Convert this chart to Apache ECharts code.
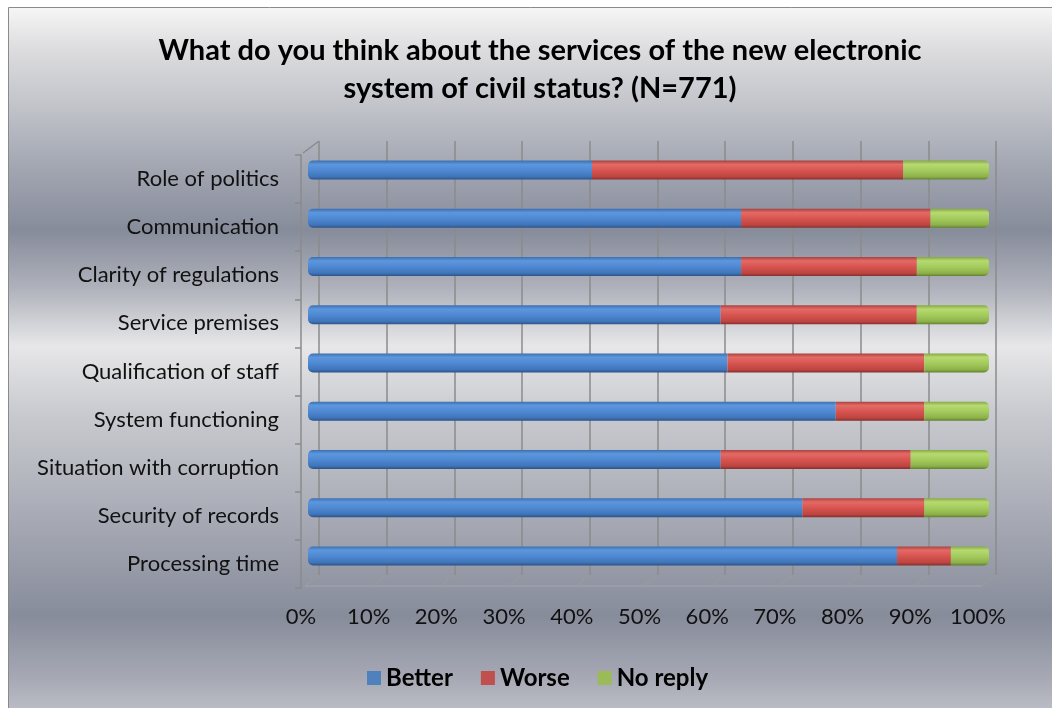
<!DOCTYPE html>
<html><head><meta charset="utf-8">
<script src="https://cdn.jsdelivr.net/npm/echarts@6/dist/echarts.min.js"></script>
<style>html,body{margin:0;padding:0;background:#fff}#c{width:1052px;height:708px}</style>
</head><body><div id="c"></div>
<script>
const categories = ['Role of politics','Communication','Clarity of regulations','Service premises','Qualification of staff','System functioning','Situation with corruption','Security of records','Processing time'];
const better  = [41.7, 63.6, 63.6, 60.6, 61.6, 77.5, 60.6, 72.6, 86.5];
const worse   = [45.7, 27.8, 25.8, 28.8, 28.9, 13.0, 27.9, 17.9, 7.9];
const noReply = [12.6, 8.6, 10.6, 10.6, 9.5, 9.5, 11.5, 9.5, 5.6];
const xTicks = [0,10,20,30,40,50,60,70,80,90,100];
const seriesNames = ['Better','Worse','No reply'];
const titleText = 'What do you think about the services of the new electronic\nsystem of civil status? (N=771)';

const FONT = 'Lato';
function cyl(c0,c1,c2,c3,c4){
  return {type:'linear',x:0,y:0,x2:0,y2:1,colorStops:[
    {offset:0,color:c0},{offset:0.2,color:c1},{offset:0.55,color:c2},{offset:0.85,color:c3},{offset:1,color:c4}]};
}
const fills = [
  cyl('#3d6fae','#5c97de','#4d87d0','#3f74b9','#2c5287'),
  cyl('#a9423f','#e46a66','#d5524e','#bd4541','#842f2c'),
  cyl('#86a845','#b6da70','#a2c95c','#8db14a','#62802f')
];
const legendColors = ['#4f81bd','#c0504d','#9bbb59'];
const dataSets = [better, worse, noReply];

const chart = echarts.init(document.getElementById('c'), null, {renderer:'canvas'});
const option = {
  backgroundColor:'#ffffff',
  animation:false,
  color:legendColors,
  graphic:[{
    type:'rect', z:-10, silent:true,
    shape:{x:8.5,y:7.5,width:1060,height:720},
    style:{stroke:'#8a8a8a',lineWidth:1,
      fill:{type:'linear',x:0,y:0,x2:0,y2:1,colorStops:[
        {offset:0,color:'#f6f6f6'},{offset:0.06,color:'#dcdcde'},{offset:0.13,color:'#c4c6cc'},
        {offset:0.22,color:'#a3a7b2'},{offset:0.31,color:'#878c9b'},{offset:0.39,color:'#afb2bb'},
        {offset:0.47,color:'#e7e7e9'},{offset:0.56,color:'#cacbd0'},{offset:0.70,color:'#a9acb6'},
        {offset:0.845,color:'#878c9b'},{offset:0.93,color:'#a6a9b4'},{offset:1,color:'#c6c8cf'}]}}
  }],
  title:{
    text:titleText, left:535, top:27, textAlign:'center',
    textStyle:{fontFamily:FONT,fontWeight:'bold',fontSize:29,color:'#000',lineHeight:38}
  },
  legend:{
    data:seriesNames.map((n,i)=>({name:n,itemStyle:{color:legendColors[i]}})),
    left:362, top:661, icon:'rect', itemWidth:14, itemHeight:14, itemGap:28,
    textStyle:{fontFamily:FONT,fontWeight:'bold',fontSize:24,color:'#000'}
  },
  grid:[
    {left:319, right:56, top:141, bottom:133},
    {left:301, right:74, top:155, bottom:120},
    {left:308, right:63, top:146, bottom:128}
  ],
  xAxis:[
    {gridIndex:0,type:'value',min:0,max:100,interval:10,axisLabel:{show:false},axisLine:{show:false},axisTick:{show:false},
      splitLine:{show:true,lineStyle:{color:'#8b8b8b',width:1.5}}},
    {gridIndex:1,type:'value',min:0,max:100,interval:10,splitLine:{show:false},axisTick:{show:false},
      axisLine:{show:false},
      axisLabel:{formatter:'{value}%',fontFamily:FONT,fontSize:22,color:'#111',margin:18}},
    {gridIndex:2,type:'value',min:0,max:100,show:false}
  ],
  yAxis:[
    {gridIndex:0,type:'value',min:0,max:1,show:false},
    {gridIndex:1,type:'category',data:categories,inverse:true,
      axisLine:{show:true,lineStyle:{color:'#8b8b8b',width:1.5}},
      axisTick:{show:true,length:6,lineStyle:{color:'#8b8b8b',width:1.5}},
      axisLabel:{fontFamily:FONT,fontSize:22,color:'#111',margin:22}},
    {gridIndex:2,type:'category',data:categories,inverse:true,show:false}
  ],
  series:[
    {
      type:'custom', xAxisIndex:0, yAxisIndex:0, silent:true, z:1,
      data:xTicks,
      renderItem:function(params, api){
        const v = api.value(0);
        const p = api.coord([v,0]);
        const children = [{type:'line',shape:{x1:p[0],y1:p[1],x2:p[0]-14,y2:p[1]+11},style:{stroke:'#9a9a9e',lineWidth:1.2}}];
        if (v === 0) {
          const t = api.coord([0,1]);
          children.push({type:'line',shape:{x1:t[0],y1:t[1],x2:t[0]-16,y2:t[1]+12},style:{stroke:'#8b8b8b',lineWidth:1.5}});
          const e = api.coord([100,0]);
          children.push({type:'line',shape:{x1:p[0]-14,y1:p[1]+11,x2:e[0]-14,y2:e[1]+11},style:{stroke:'#a4a6ad',lineWidth:1.2}});
        }
        return {type:'group',children:children};
      }
    }
  ].concat(dataSets.map(function(d,i){
    return {
      name:seriesNames[i], type:'bar', stack:'all', xAxisIndex:2, yAxisIndex:2, barWidth:19, z:5,
      data:d,
      itemStyle:{color:fills[i], borderRadius: i===0?[5,0,0,5]:(i===2?[0,5,5,0]:0)}
    };
  }))
};
chart.setOption(option);
</script></body></html>
